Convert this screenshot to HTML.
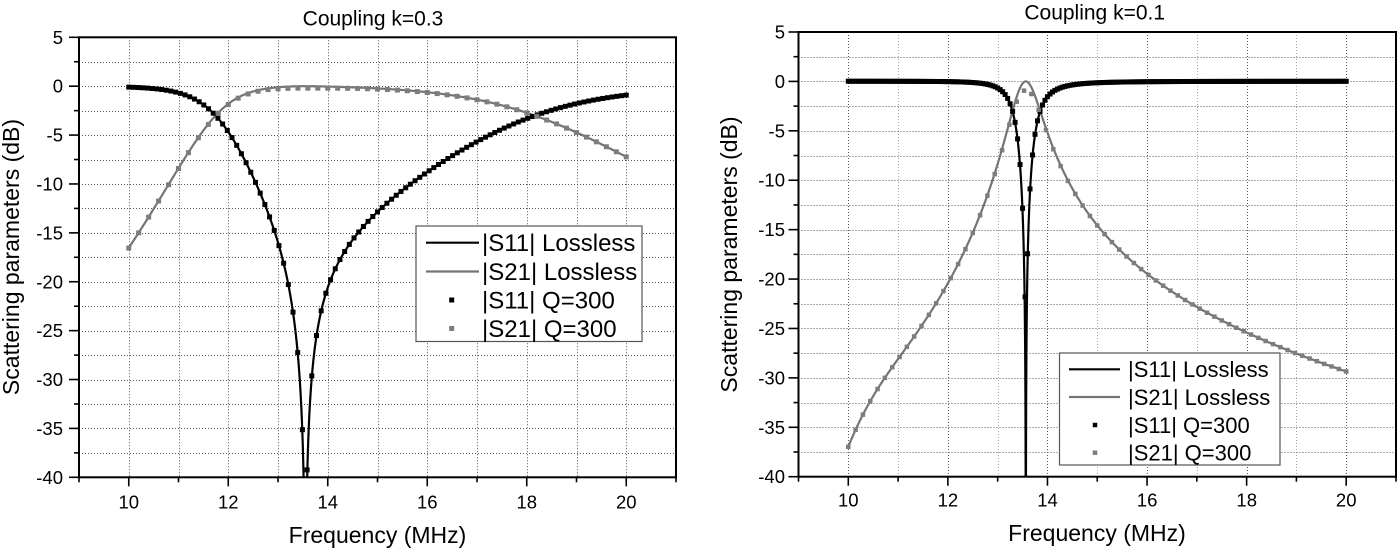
<!DOCTYPE html>
<html>
<head>
<meta charset="utf-8">
<style>
  html,body{margin:0;padding:0;background:#fff;}
  svg{display:block;font-family:"Liberation Sans",Arial,sans-serif;}
  text{fill:#000;}
</style>
</head>
<body>
<svg id="s" xmlns="http://www.w3.org/2000/svg" width="1400" height="551" viewBox="0 0 1400 551">
  <rect x="0" y="0" width="1400" height="551" fill="#fff"/>
  <defs>
    <clipPath id="clip0"><rect x="79" y="37.3" width="597" height="440"/></clipPath>
    <clipPath id="clip1"><rect x="798.5" y="32" width="597.5" height="444.7"/></clipPath>
  </defs>
  <g id="c0"></g>
  <g id="c1"></g>

  <!-- Titles -->
  <text x="373" y="25.5" font-size="21" text-anchor="middle">Coupling k=0.3</text>
  <text x="1094.7" y="19.5" font-size="21" text-anchor="middle">Coupling k=0.1</text>

  <!-- Axis labels -->
  <text x="377.5" y="543" font-size="23" text-anchor="middle">Frequency (MHz)</text>
  <text x="1097" y="541" font-size="23" text-anchor="middle">Frequency (MHz)</text>
  <text transform="translate(19,257) rotate(-90)" font-size="23" text-anchor="middle">Scattering parameters (dB)</text>
  <text transform="translate(737,254.5) rotate(-90)" font-size="23" text-anchor="middle">Scattering parameters (dB)</text>

  <!-- Left y tick labels -->
  <g font-size="18.5" text-anchor="end">
    <text x="63" y="43.8">5</text>
    <text x="63" y="92.7">0</text>
    <text x="63" y="141.6">-5</text>
    <text x="63" y="190.5">-10</text>
    <text x="63" y="239.4">-15</text>
    <text x="63" y="288.3">-20</text>
    <text x="63" y="337.2">-25</text>
    <text x="63" y="386.1">-30</text>
    <text x="63" y="434.9">-35</text>
    <text x="63" y="483.8">-40</text>
  </g>
  <!-- Left x tick labels -->
  <g font-size="18.5" text-anchor="middle">
    <text x="128.75" y="508.5">10</text>
    <text x="228.25" y="508.5">12</text>
    <text x="327.75" y="508.5">14</text>
    <text x="427.25" y="508.5">16</text>
    <text x="526.75" y="508.5">18</text>
    <text x="626.25" y="508.5">20</text>
  </g>
  <!-- Right y tick labels -->
  <g font-size="18.5" text-anchor="end">
    <text x="785" y="38.5">5</text>
    <text x="785" y="87.9">0</text>
    <text x="785" y="137.3">-5</text>
    <text x="785" y="186.7">-10</text>
    <text x="785" y="236.1">-15</text>
    <text x="785" y="285.6">-20</text>
    <text x="785" y="335">-25</text>
    <text x="785" y="384.4">-30</text>
    <text x="785" y="433.8">-35</text>
    <text x="785" y="483.2">-40</text>
  </g>
  <!-- Right x tick labels -->
  <g font-size="18.5" text-anchor="middle">
    <text x="848.3" y="506.5">10</text>
    <text x="947.9" y="506.5">12</text>
    <text x="1047.5" y="506.5">14</text>
    <text x="1147.1" y="506.5">16</text>
    <text x="1246.7" y="506.5">18</text>
    <text x="1346.2" y="506.5">20</text>
  </g>

  <!-- Left legend -->
  <rect x="416" y="226" width="226" height="115.5" fill="#fff" stroke="#555" stroke-width="1.2"/>
  <line x1="426" y1="242.7" x2="479" y2="242.7" stroke="#000" stroke-width="2.2"/>
  <line x1="426" y1="271.5" x2="479" y2="271.5" stroke="#747474" stroke-width="2.2"/>
  <rect x="449.2" y="297.5" width="5" height="5" fill="#000"/>
  <rect x="449.2" y="326" width="5" height="5" fill="#7d7d7d"/>
  <g font-size="24">
    <text x="482" y="251.2">|S11| Lossless</text>
    <text x="482" y="280">|S21| Lossless</text>
    <text x="482" y="308.5">|S11| Q=300</text>
    <text x="482" y="337">|S21| Q=300</text>
  </g>

  <!-- Right legend -->
  <rect x="1059.5" y="353" width="220.5" height="112" fill="#fff" stroke="#555" stroke-width="1.2"/>
  <line x1="1069" y1="369.3" x2="1120" y2="369.3" stroke="#000" stroke-width="2.2"/>
  <line x1="1069" y1="397" x2="1120" y2="397" stroke="#747474" stroke-width="2.2"/>
  <rect x="1092.75" y="422.75" width="4.5" height="4.5" fill="#000"/>
  <rect x="1092.75" y="450.45" width="4.5" height="4.5" fill="#7d7d7d"/>
  <g font-size="22">
    <text x="1128" y="377.1">|S11| Lossless</text>
    <text x="1128" y="404.8">|S21| Lossless</text>
    <text x="1128" y="432.8">|S11| Q=300</text>
    <text x="1128" y="460.5">|S21| Q=300</text>
  </g>
</svg>

<script>
(function(){
  var NS="http://www.w3.org/2000/svg";
  function el(p,tag,a){var e=document.createElementNS(NS,tag);for(var k in a)e.setAttribute(k,a[k]);p.appendChild(e);return e;}
  var charts=[
    {id:'c0',clip:'clip0',x0:79,x1:676,y0:37.3,y1:477.3,f0:13.55,
     g:function(f){
       if(f<13.55) return 0.28+0.059*Math.pow(13.55-f,2.6);
       var d=f-15.3;
       return 0.155+0.0075*d*d+0.1*Math.exp(-(f-13.55)/0.5);
     },
     L:0.2,w:1.0,eps:3e-5,s11step:10/106,s21step:0.2,ms11:5,ms21:5,light:false},
    {id:'c1',clip:'clip1',x0:798.5,x1:1396,y0:32,y1:476.7,f0:13.565,
     g:function(f){
       if(f<13.565){var D=13.565-f;return 3.4+1.83*Math.pow(D,1.3)+2.06e-5*Math.pow(D,10);}
       return 3.4+0.18*(f-13.565);
     },
     L:0.9,w:0.2,eps:4e-3,s11step:0.05,s21step:10/68,ms11:5,ms21:4.5,light:true}
  ];
  charts.forEach(function(c){
    var root=document.getElementById(c.id);
    var fx=function(f){return c.x0+(f-9)*(c.x1-c.x0)/12;};
    var fy=function(d){var y=c.y0+(5-d)*(c.y1-c.y0)/45; return Math.min(y,c.y1+60);};
    // grid
    var grid=el(root,'g',{});
    for(var f=10;f<=20;f++){
      var x=Math.round(fx(f))+0.5;
      var minor=(f%2===1);
      el(grid,'line',{x1:x,x2:x,y1:c.y0,y2:c.y1,stroke:(c.light&&minor)?'#a8a8a8':'#555','stroke-width':1,'stroke-dasharray':'1 2'});
    }
    for(var d=2.5;d>-40;d-=2.5){
      var y=Math.round(fy(d))+0.5;
      el(grid,'line',{x1:c.x0,x2:c.x1,y1:y,y2:y,stroke:'#555','stroke-width':1,'stroke-dasharray':'1 2'});
    }
    function X(f){return c.g(f)*(c.f0-f);}
    function s21(f){var x=X(f);return -10*Math.log10(1+x*x);}
    function s11(f){var x=X(f);var v=x*x/(1+x*x);return v<=0?-200:10*Math.log10(v);}
    function s21q(f){var t=(f-c.f0)/c.w;return s21(f)-c.L/(1+t*t);}
    function s11q(f){var x=X(f);return 10*Math.log10(x*x/(1+x*x)+c.eps);}
    var cg=el(root,'g',{'clip-path':'url(#'+c.clip+')'});
    function path(fn){
      var s='';var n=5000;
      for(var i=0;i<=n;i++){
        var f=10+10*i/n;
        var px=fx(f),py=fy(fn(f));
        s+=(i===0?'M':'L')+px.toFixed(2)+' '+py.toFixed(2);
      }
      return s;
    }
    el(cg,'path',{d:path(s11),fill:'none',stroke:'#000','stroke-width':2.2,'stroke-linejoin':'round'});
    el(cg,'path',{d:path(s21),fill:'none',stroke:'#747474','stroke-width':2.2,'stroke-linejoin':'round'});
    function markers(fn,step,ms,col){
      for(var i=0;;i++){
        var f=10+i*step; if(f>20+1e-9)break;
        var px=fx(f),py=fy(fn(f));
        el(cg,'rect',{x:(px-ms/2).toFixed(2),y:(py-ms/2).toFixed(2),width:ms,height:ms,fill:col});
      }
    }
    markers(s11q,c.s11step,c.ms11,'#000');
    markers(s21q,c.s21step,c.ms21,'#7d7d7d');
    // axes box
    var ax=el(root,'g',{stroke:'#000','stroke-width':2,fill:'none'});
    el(ax,'rect',{x:c.x0,y:c.y0,width:(c.x1-c.x0),height:(c.y1-c.y0)});
    // y ticks
    for(var v=5;v>=-40;v-=2.5){
      var yy=fy(v); var major=(Math.abs(v%5)<1e-6);
      el(ax,'line',{x1:c.x0-(major?10:5),x2:c.x0,y1:yy,y2:yy,'stroke-width':1.6});
    }
    // x ticks
    for(var ff=9;ff<=21;ff++){
      var xx=fx(ff); var maj=(ff%2===0);
      el(ax,'line',{x1:xx,x2:xx,y1:c.y1,y2:c.y1+(maj?9:5),'stroke-width':1.6});
    }
  });
})();
</script>
</body>
</html>
